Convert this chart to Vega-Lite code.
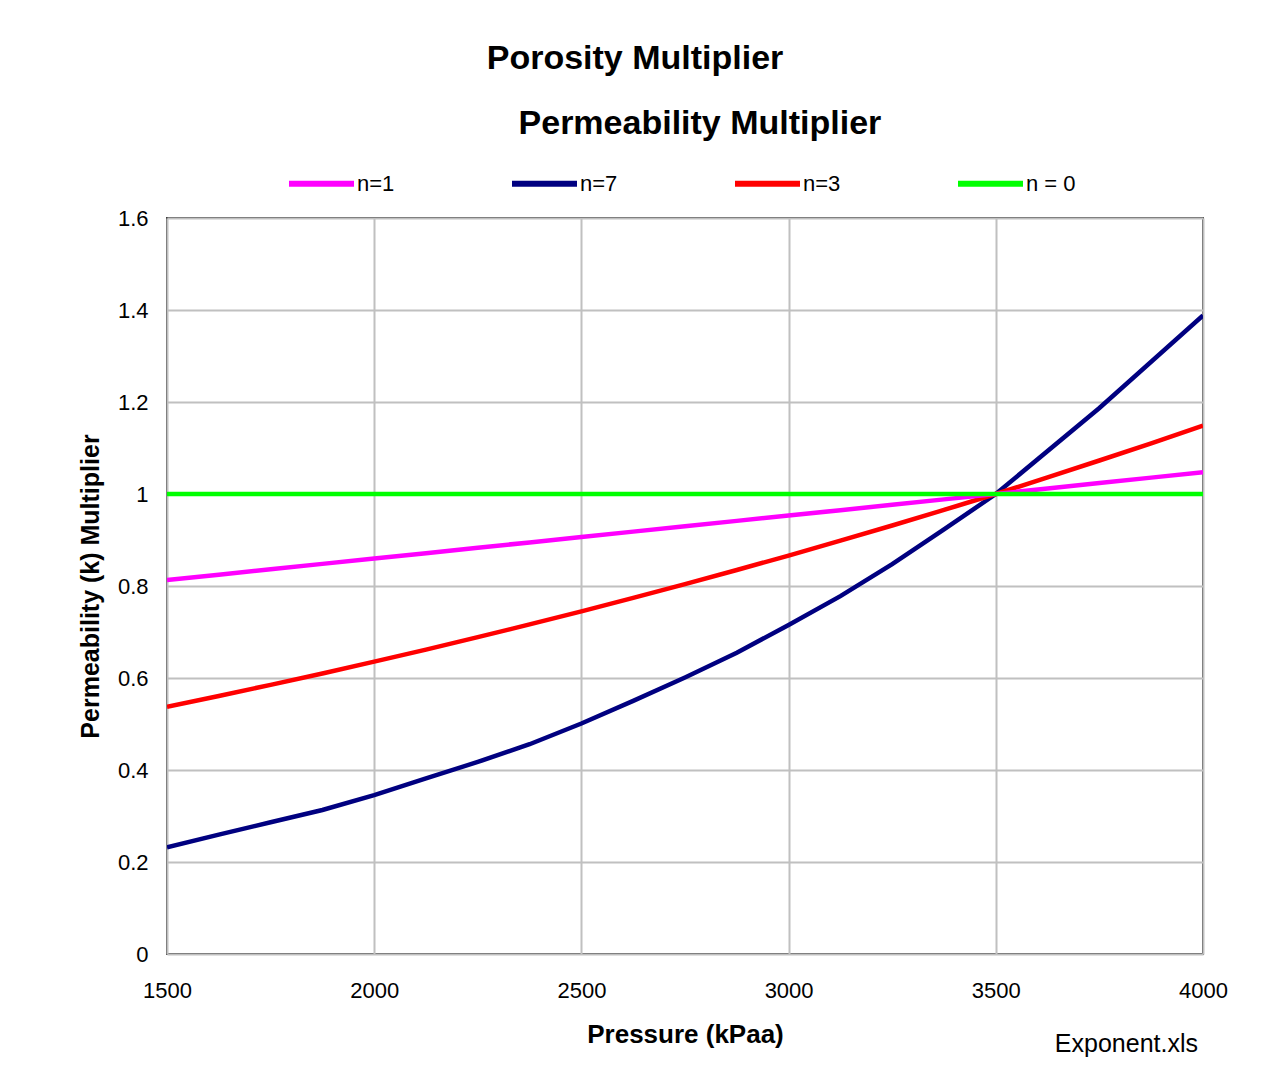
{
  "$schema": "https://vega.github.io/schema/vega-lite/v6.json",
  "width": 1036,
  "height": 736,
  "autosize": "none",
  "padding": {"left": 167, "top": 218, "right": 59, "bottom": 126},
  "background": "white",
  "title": {
    "text": "Porosity Multiplier",
    "anchor": "middle",
    "dx": -50,
    "font": "Liberation Sans",
    "fontSize": 34,
    "fontWeight": "bold",
    "color": "#000000",
    "offset": 31
  },
  "config": {
    "view": {"stroke": "#404040", "strokeWidth": 2},
    "axis": {
      "labelFont": "Liberation Sans",
      "labelFontSize": 22,
      "labelColor": "#000000",
      "titleFont": "Liberation Sans",
      "titleFontWeight": "bold",
      "titleColor": "#000000",
      "domain": false,
      "ticks": false,
      "labelFlush": false,
      "gridColor": "#c0c0c0",
      "gridWidth": 2,
      "gridOpacity": 1
    }
  },
  "data": {
    "values": [
      {"P": 1500, "k": 0.2318, "n": "n=7"},
      {"P": 1625, "k": 0.2594, "n": "n=7"},
      {"P": 1750, "k": 0.2863, "n": "n=7"},
      {"P": 1875, "k": 0.3130, "n": "n=7"},
      {"P": 2000, "k": 0.3455, "n": "n=7"},
      {"P": 2125, "k": 0.3816, "n": "n=7"},
      {"P": 2250, "k": 0.4175, "n": "n=7"},
      {"P": 2375, "k": 0.4560, "n": "n=7"},
      {"P": 2500, "k": 0.5010, "n": "n=7"},
      {"P": 2625, "k": 0.5502, "n": "n=7"},
      {"P": 2750, "k": 0.6012, "n": "n=7"},
      {"P": 2875, "k": 0.6550, "n": "n=7"},
      {"P": 3000, "k": 0.7152, "n": "n=7"},
      {"P": 3125, "k": 0.7780, "n": "n=7"},
      {"P": 3250, "k": 0.8474, "n": "n=7"},
      {"P": 3375, "k": 0.9230, "n": "n=7"},
      {"P": 3500, "k": 1.0, "n": "n=7"},
      {"P": 3750, "k": 1.1870, "n": "n=7"},
      {"P": 4000, "k": 1.3880, "n": "n=7"},
      {"P": 1500, "k": 0.5374, "n": "n=3"},
      {"P": 1625, "k": 0.5609, "n": "n=3"},
      {"P": 1750, "k": 0.5851, "n": "n=3"},
      {"P": 1875, "k": 0.6099, "n": "n=3"},
      {"P": 2000, "k": 0.6355, "n": "n=3"},
      {"P": 2125, "k": 0.6618, "n": "n=3"},
      {"P": 2250, "k": 0.6888, "n": "n=3"},
      {"P": 2375, "k": 0.7165, "n": "n=3"},
      {"P": 2500, "k": 0.7449, "n": "n=3"},
      {"P": 2625, "k": 0.7741, "n": "n=3"},
      {"P": 2750, "k": 0.8041, "n": "n=3"},
      {"P": 2875, "k": 0.8347, "n": "n=3"},
      {"P": 3000, "k": 0.8662, "n": "n=3"},
      {"P": 3125, "k": 0.8985, "n": "n=3"},
      {"P": 3250, "k": 0.9315, "n": "n=3"},
      {"P": 3375, "k": 0.9653, "n": "n=3"},
      {"P": 3500, "k": 1.0, "n": "n=3"},
      {"P": 3625, "k": 1.0361, "n": "n=3"},
      {"P": 3750, "k": 1.0728, "n": "n=3"},
      {"P": 3875, "k": 1.1102, "n": "n=3"},
      {"P": 4000, "k": 1.1486, "n": "n=3"},
      {"P": 1500, "k": 0.813, "n": "n=1"},
      {"P": 1625, "k": 0.8247, "n": "n=1"},
      {"P": 1750, "k": 0.8364, "n": "n=1"},
      {"P": 1875, "k": 0.8481, "n": "n=1"},
      {"P": 2000, "k": 0.8598, "n": "n=1"},
      {"P": 2125, "k": 0.8714, "n": "n=1"},
      {"P": 2250, "k": 0.8831, "n": "n=1"},
      {"P": 2375, "k": 0.8948, "n": "n=1"},
      {"P": 2500, "k": 0.9065, "n": "n=1"},
      {"P": 2625, "k": 0.9182, "n": "n=1"},
      {"P": 2750, "k": 0.9299, "n": "n=1"},
      {"P": 2875, "k": 0.9416, "n": "n=1"},
      {"P": 3000, "k": 0.9533, "n": "n=1"},
      {"P": 3125, "k": 0.9649, "n": "n=1"},
      {"P": 3250, "k": 0.9766, "n": "n=1"},
      {"P": 3375, "k": 0.9883, "n": "n=1"},
      {"P": 3500, "k": 1.0, "n": "n=1"},
      {"P": 3625, "k": 1.0119, "n": "n=1"},
      {"P": 3750, "k": 1.0238, "n": "n=1"},
      {"P": 3875, "k": 1.0356, "n": "n=1"},
      {"P": 4000, "k": 1.0475, "n": "n=1"},
      {"P": 1500, "k": 1, "n": "n = 0"},
      {"P": 4000, "k": 1, "n": "n = 0"}
    ]
  },
  "layer": [
    {
      "mark": {"type": "line", "strokeWidth": 4.5, "clip": true},
      "encoding": {
        "x": {
          "field": "P",
          "type": "quantitative",
          "scale": {"domain": [1500, 4000], "nice": false, "zero": false},
          "axis": {
            "values": [1500, 2000, 2500, 3000, 3500, 4000],
            "format": "d",
            "labelPadding": 26,
            "title": "Pressure (kPaa)",
            "titleFontSize": 26,
            "titlePadding": 20
          }
        },
        "y": {
          "field": "k",
          "type": "quantitative",
          "scale": {"domain": [0, 1.6], "nice": false},
          "axis": {
            "values": [0, 0.2, 0.4, 0.6, 0.8, 1, 1.2, 1.4, 1.6],
            "format": "~g",
            "labelPadding": 19,
            "title": "Permeability (k) Multiplier",
            "titleFontSize": 25,
            "titlePadding": 14
          }
        },
        "color": {
          "field": "n",
          "type": "nominal",
          "scale": {
            "domain": ["n=1", "n=7", "n=3", "n = 0"],
            "range": ["#ff00ff", "#000080", "#ff0000", "#00ff00"]
          },
          "legend": {
            "title": null,
            "orient": "none",
            "direction": "horizontal",
            "legendX": 119,
            "legendY": -70,
            "symbolType": "stroke",
            "symbolSize": 4225,
            "symbolStrokeWidth": 6,
            "labelFont": "Liberation Sans",
            "labelFontSize": 22,
            "labelColor": "#000000",
            "labelOffset": 0,
            "gridAlign": "all",
            "columnPadding": 93
          }
        }
      }
    },
    {
      "data": {"values": [{"label": "Permeability Multiplier"}]},
      "mark": {"type": "text", "align": "center", "baseline": "alphabetic", "font": "Liberation Sans", "fontSize": 34, "fontWeight": "bold", "color": "#000000"},
      "encoding": {
        "x": {"datum": 2786, "type": "quantitative"},
        "y": {"datum": 1.7826, "type": "quantitative"},
        "text": {"field": "label"}
      }
    },
    {
      "data": {"values": [{"label": "Exponent.xls"}]},
      "mark": {"type": "text", "align": "right", "baseline": "alphabetic", "font": "Liberation Sans", "fontSize": 25, "color": "#000000", "dx": -5},
      "encoding": {
        "x": {"datum": 4000, "type": "quantitative"},
        "y": {"datum": -0.213, "type": "quantitative"},
        "text": {"field": "label"}
      }
    }
  ]
}
